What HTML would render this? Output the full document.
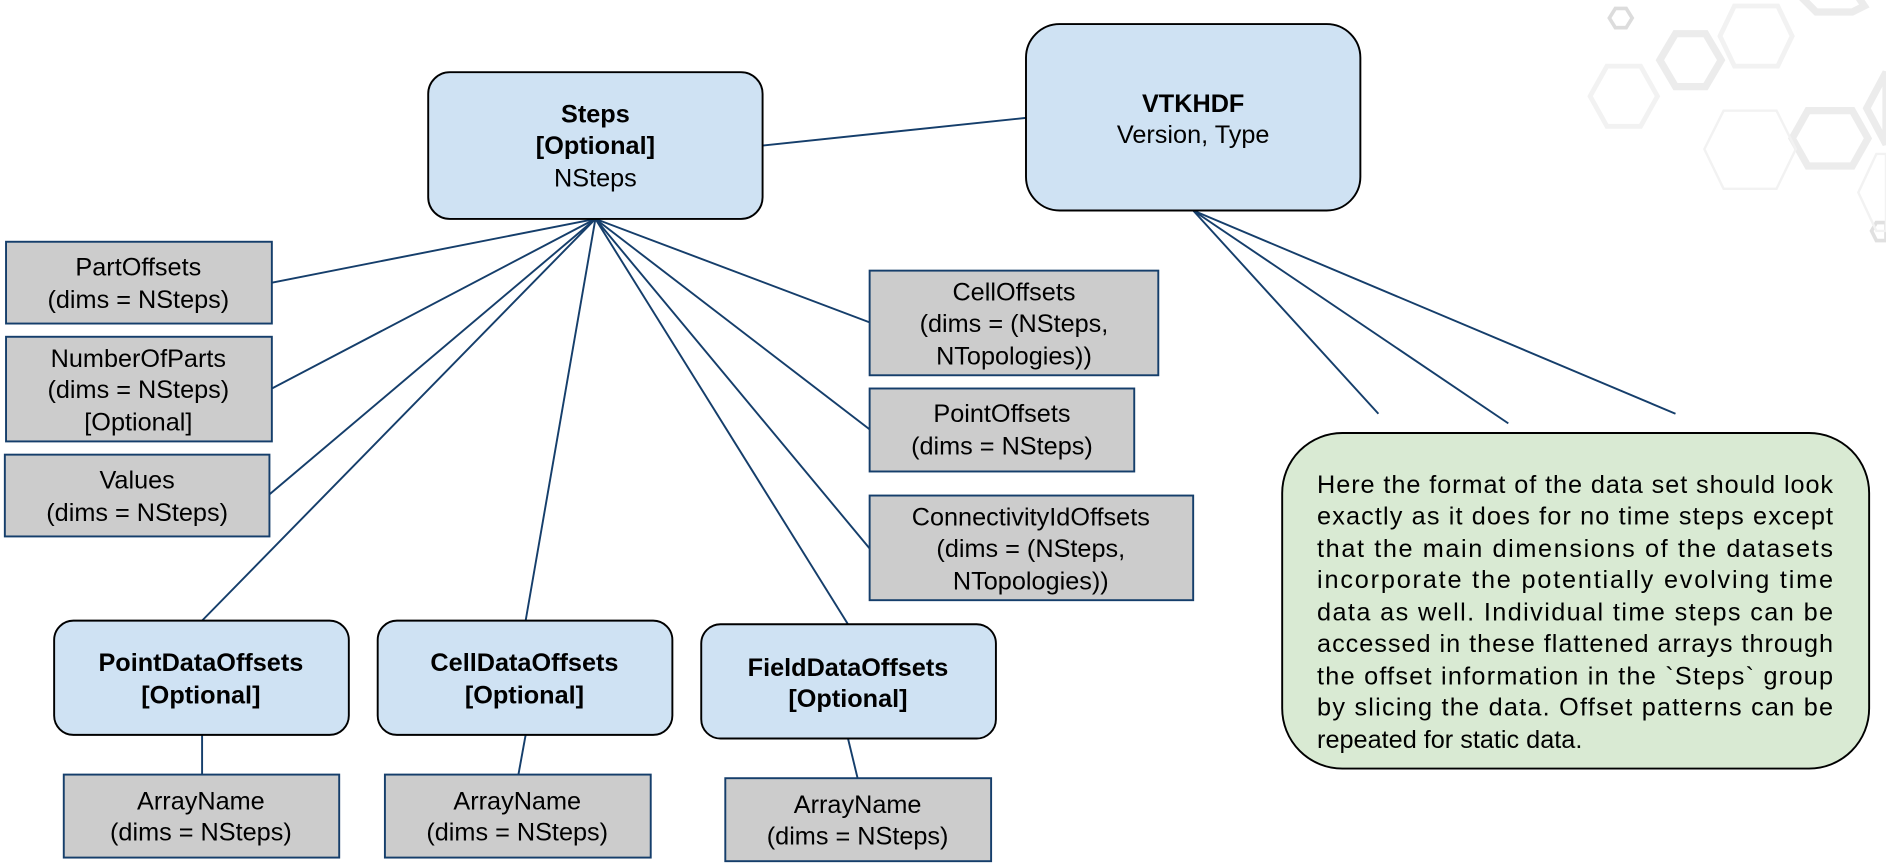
<!DOCTYPE html>
<html><head><meta charset="utf-8"><style>html,body{margin:0;padding:0;background:#fff}svg{display:block}</style></head>
<body>
<svg width="1886" height="866" viewBox="0 0 1568 720" xmlns="http://www.w3.org/2000/svg" font-family="'Liberation Sans', sans-serif">
<g fill="none" stroke="#ececec" stroke-width="6">
<polygon points="1380,50 1393,28 1418,28 1431,50 1418,72 1393,72"/>
<polygon points="1490,115 1503,92 1540,92 1553,115 1540,138 1503,138"/>
<polygon points="1338,15 1343,7 1352,7 1357,15 1352,23 1343,23" stroke="#dcdcdc" stroke-width="3"/>
<polygon points="1500,0 1510,-10 1540,-10 1550,5 1540,10 1510,10"/>
<polygon points="1552,90 1568,60 1568,120"/>
<polygon points="1556,192 1560,185 1568,185 1568,200 1560,200" stroke="#e0e0e0" stroke-width="3"/>
</g>
<g fill="none" stroke="#f2f2f2" stroke-width="2">
<polygon points="1417,124 1433,92 1477,92 1493,124 1477,157 1433,157"/>
<polygon points="1322,80 1336,55 1364,55 1378,80 1364,105 1336,105" stroke-width="4"/>
<polygon points="1430,30 1442,5 1478,5 1490,30 1478,55 1442,55" stroke-width="4"/>
<polygon points="1545,160 1560,128 1568,128 1568,192 1560,192"/>
</g>
<g stroke="#153e6b" stroke-width="1.6">
<line x1="634" y1="121" x2="853" y2="98"/>
<line x1="495" y1="182" x2="226" y2="235"/>
<line x1="495" y1="182" x2="226" y2="323"/>
<line x1="495" y1="182" x2="224" y2="411"/>
<line x1="495" y1="182" x2="168" y2="516"/>
<line x1="495" y1="182" x2="437" y2="516"/>
<line x1="495" y1="182" x2="705" y2="519"/>
<line x1="495" y1="182" x2="723" y2="268"/>
<line x1="495" y1="182" x2="723" y2="357"/>
<line x1="495" y1="182" x2="723" y2="456"/>
<line x1="168" y1="611" x2="168" y2="644"/>
<line x1="437" y1="611" x2="431" y2="644"/>
<line x1="705" y1="614" x2="713" y2="647"/>
<line x1="992" y1="175" x2="1146" y2="344"/>
<line x1="992" y1="175" x2="1254" y2="352"/>
<line x1="992" y1="175" x2="1393" y2="344"/>
</g>
<g fill="#cfe2f3" stroke="#000" stroke-width="1.6">
<rect x="356" y="60" width="278" height="122" rx="18"/>
<rect x="853" y="20" width="278" height="155" rx="28"/>
<rect x="45" y="516" width="245" height="95" rx="16"/>
<rect x="314" y="516" width="245" height="95" rx="16"/>
<rect x="583" y="519" width="245" height="95" rx="16"/>
</g>
<rect x="1066" y="360" width="488" height="279" rx="50" fill="#d9ead3" stroke="#000" stroke-width="1.6"/>
<g fill="#cccccc" stroke="#153e6b" stroke-width="1.6">
<rect x="5" y="201" width="221" height="68"/>
<rect x="5" y="280" width="221" height="87"/>
<rect x="4" y="378" width="220" height="68"/>
<rect x="723" y="225" width="240" height="87"/>
<rect x="723" y="323" width="220" height="69"/>
<rect x="723" y="412" width="269" height="87"/>
<rect x="53" y="644" width="229" height="69"/>
<rect x="320" y="644" width="221" height="69"/>
<rect x="603" y="647" width="221" height="69"/>
</g>
<g font-size="21" text-anchor="middle" fill="#000">
<text x="495" y="102" font-weight="bold">Steps</text>
<text x="495" y="128" font-weight="bold">[Optional]</text>
<text x="495" y="155">NSteps</text>
<text x="992" y="93" font-weight="bold">VTKHDF</text>
<text x="992" y="119">Version, Type</text>
<text x="167" y="558" font-weight="bold">PointDataOffsets</text>
<text x="167" y="585" font-weight="bold">[Optional]</text>
<text x="436" y="558" font-weight="bold">CellDataOffsets</text>
<text x="436" y="585" font-weight="bold">[Optional]</text>
<text x="705" y="562" font-weight="bold">FieldDataOffsets</text>
<text x="705" y="588" font-weight="bold">[Optional]</text>
<text x="115" y="229">PartOffsets</text>
<text x="115" y="256">(dims = NSteps)</text>
<text x="115" y="305">NumberOfParts</text>
<text x="115" y="331">(dims = NSteps)</text>
<text x="115" y="358">[Optional]</text>
<text x="114" y="406">Values</text>
<text x="114" y="433">(dims = NSteps)</text>
<text x="843" y="250">CellOffsets</text>
<text x="843" y="276">(dims = (NSteps,</text>
<text x="843" y="303">NTopologies))</text>
<text x="833" y="351">PointOffsets</text>
<text x="833" y="378">(dims = NSteps)</text>
<text x="857" y="437">ConnectivityIdOffsets</text>
<text x="857" y="463">(dims = (NSteps,</text>
<text x="857" y="490">NTopologies))</text>
<text x="167" y="673">ArrayName</text>
<text x="167" y="699">(dims = NSteps)</text>
<text x="430" y="673">ArrayName</text>
<text x="430" y="699">(dims = NSteps)</text>
<text x="713" y="676">ArrayName</text>
<text x="713" y="702">(dims = NSteps)</text>
</g>
<g font-size="21" fill="#000">
<text x="1095" y="410" textLength="429" lengthAdjust="spacing">Here the format of the data set should look</text>
<text x="1095" y="436" textLength="429" lengthAdjust="spacing">exactly as it does for no time steps except</text>
<text x="1095" y="463" textLength="429" lengthAdjust="spacing">that the main dimensions of the datasets</text>
<text x="1095" y="489" textLength="429" lengthAdjust="spacing">incorporate the potentially evolving time</text>
<text x="1095" y="516" textLength="429" lengthAdjust="spacing">data as well. Individual time steps can be</text>
<text x="1095" y="542" textLength="429" lengthAdjust="spacing">accessed in these flattened arrays through</text>
<text x="1095" y="569" textLength="429" lengthAdjust="spacing">the offset information in the `Steps` group</text>
<text x="1095" y="595" textLength="429" lengthAdjust="spacing">by slicing the data. Offset patterns can be</text>
<text x="1095" y="622">repeated for static data.</text>
</g>
</svg>
</body></html>
